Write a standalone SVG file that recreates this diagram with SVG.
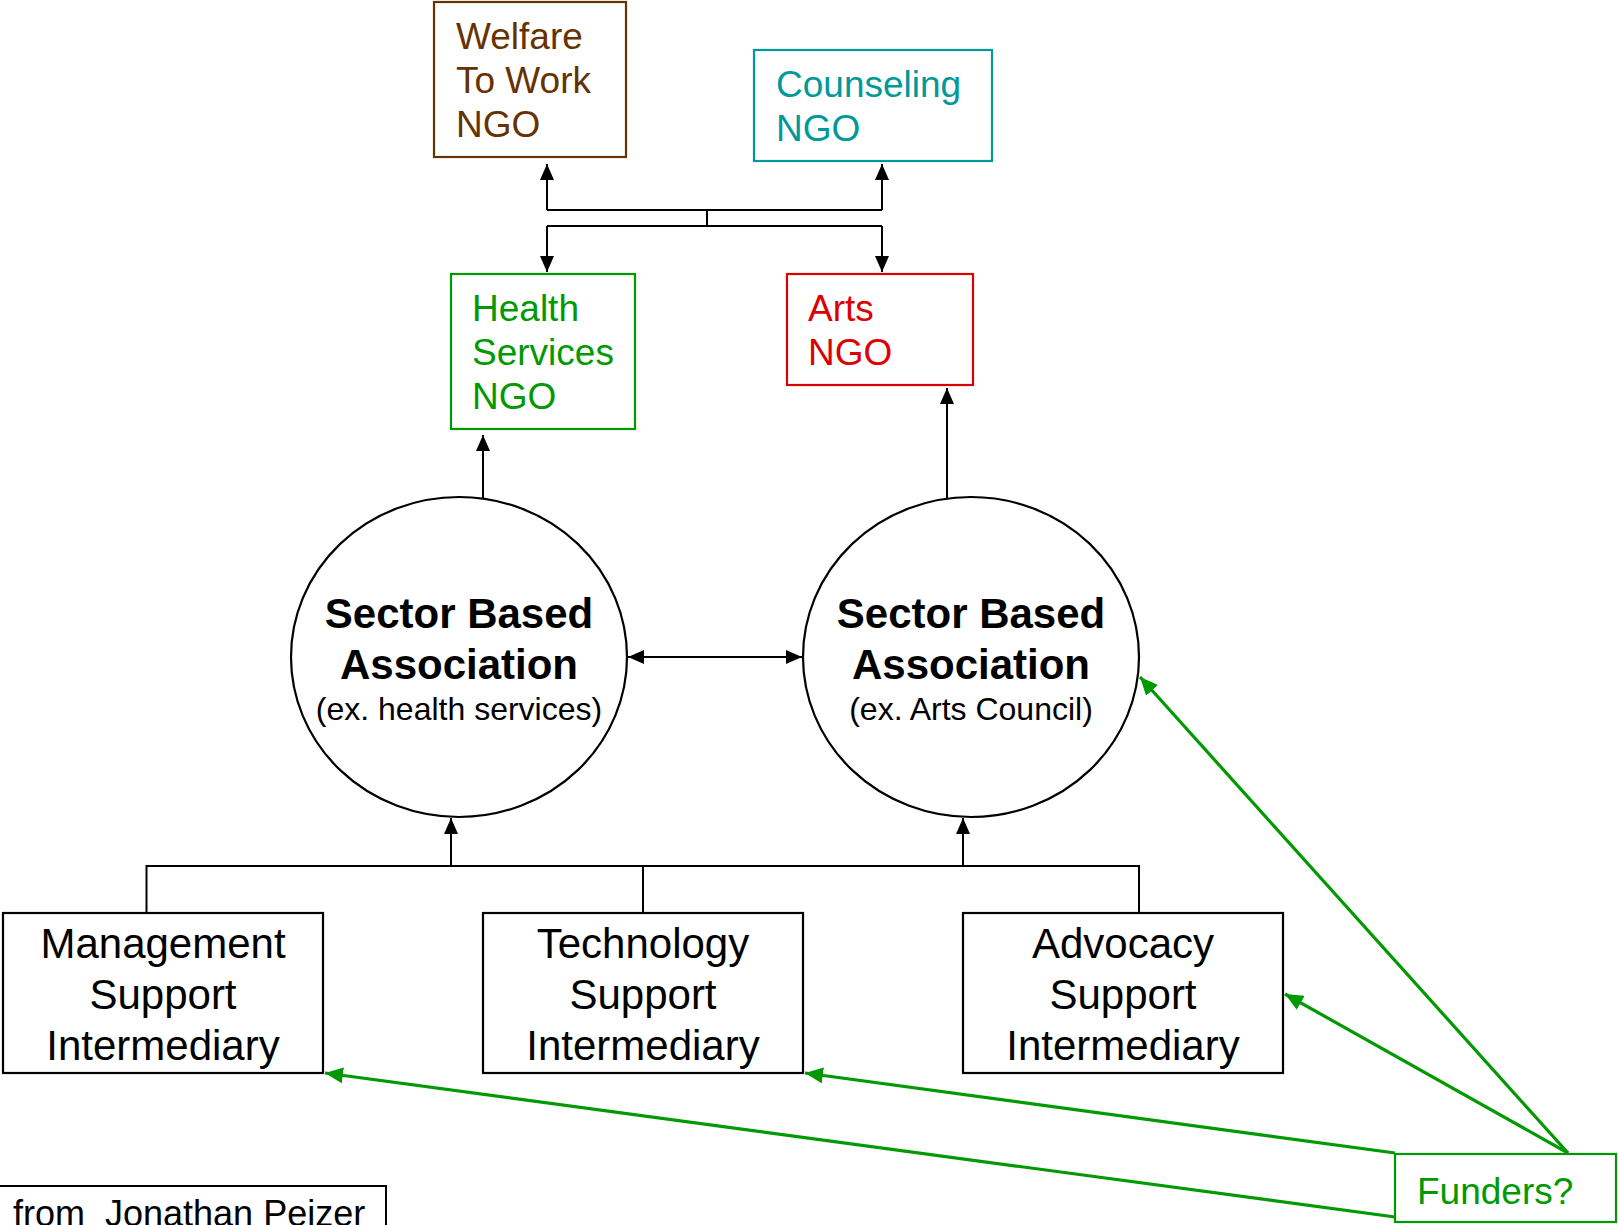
<svg xmlns="http://www.w3.org/2000/svg" width="1618" height="1225" viewBox="0 0 1618 1225">
<style>
text{font-family:"Liberation Sans",Arial,sans-serif}
.ngo{font-size:37px}
.box{fill:#fff;stroke-width:2.2}
.blk{fill:none;stroke:#000;stroke-width:2}
.grn{fill:none;stroke:#009900;stroke-width:3.2}
.big{font-size:42px;font-weight:bold;text-anchor:middle}
.sub{font-size:32px;text-anchor:middle}
.mid{font-size:42px;text-anchor:middle}
</style>
<defs>
<marker id="ab" markerUnits="userSpaceOnUse" markerWidth="16" markerHeight="14" refX="16" refY="7" orient="auto-start-reverse"><path d="M0,0 L16,7 L0,14 z" fill="#000"/></marker>
<marker id="ag" markerUnits="userSpaceOnUse" markerWidth="18" markerHeight="16" refX="18" refY="8" orient="auto"><path d="M0,0 L18,8 L0,16 z" fill="#009900"/></marker>
</defs>
<rect width="1618" height="1225" fill="#fff"/>
<g id="connectors">
<path class="blk" d="M547,210 H882 M707,210 V226 M547,226 H882"/>
<path class="blk" d="M547,210 V164" marker-end="url(#ab)"/>
<path class="blk" d="M882,210 V164" marker-end="url(#ab)"/>
<path class="blk" d="M547,226 V272" marker-end="url(#ab)"/>
<path class="blk" d="M882,226 V272" marker-end="url(#ab)"/>
<path class="blk" d="M483,498 V435" marker-end="url(#ab)"/>
<path class="blk" d="M947,498 V388" marker-end="url(#ab)"/>
<path class="blk" d="M628,657 H802" marker-start="url(#ab)" marker-end="url(#ab)"/>
<path class="blk" d="M146.5,913 V866 H1139 V913 M643,866 V913"/>
<path class="blk" d="M451,866 V818" marker-end="url(#ab)"/>
<path class="blk" d="M963,866 V818" marker-end="url(#ab)"/>
<path class="grn" d="M1568,1153 L1140,677" marker-end="url(#ag)"/>
<path class="grn" d="M1568,1153 L1285,994" marker-end="url(#ag)"/>
<path class="grn" d="M1395,1153 L805,1073" marker-end="url(#ag)"/>
<path class="grn" d="M1395,1217 L325,1073" marker-end="url(#ag)"/>
</g>
<g id="welfare">
<rect class="box" x="434" y="2" width="192" height="155" stroke="#663300"/>
<text class="ngo" fill="#663300" x="456" y="49">Welfare</text>
<text class="ngo" fill="#663300" x="456" y="93">To Work</text>
<text class="ngo" fill="#663300" x="456" y="137">NGO</text>
</g>
<g id="counseling">
<rect class="box" x="754" y="50" width="238" height="111" stroke="#009999"/>
<text class="ngo" fill="#009999" x="776" y="97">Counseling</text>
<text class="ngo" fill="#009999" x="776" y="141">NGO</text>
</g>
<g id="health">
<rect class="box" x="451" y="274" width="184" height="155" stroke="#009900"/>
<text class="ngo" fill="#009900" x="472" y="321">Health</text>
<text class="ngo" fill="#009900" x="472" y="365">Services</text>
<text class="ngo" fill="#009900" x="472" y="409">NGO</text>
</g>
<g id="arts">
<rect class="box" x="787" y="274" width="186" height="111" stroke="#dd0000"/>
<text class="ngo" fill="#dd0000" x="808" y="321">Arts</text>
<text class="ngo" fill="#dd0000" x="808" y="365">NGO</text>
</g>
<g id="sba-health">
<ellipse cx="459" cy="657" rx="168" ry="160" fill="#fff" stroke="#000" stroke-width="2.2"/>
<text class="big" x="459" y="628">Sector Based</text>
<text class="big" x="459" y="679">Association</text>
<text class="sub" x="459" y="720">(ex. health services)</text>
</g>
<g id="sba-arts">
<ellipse cx="971" cy="657" rx="168" ry="160" fill="#fff" stroke="#000" stroke-width="2.2"/>
<text class="big" x="971" y="628">Sector Based</text>
<text class="big" x="971" y="679">Association</text>
<text class="sub" x="971" y="720">(ex. Arts Council)</text>
</g>
<g id="management">
<rect class="box" x="3" y="913" width="320" height="160" stroke="#000"/>
<text class="mid" x="163" y="958">Management</text>
<text class="mid" x="163" y="1009">Support</text>
<text class="mid" x="163" y="1060">Intermediary</text>
</g>
<g id="technology">
<rect class="box" x="483" y="913" width="320" height="160" stroke="#000"/>
<text class="mid" x="643" y="958">Technology</text>
<text class="mid" x="643" y="1009">Support</text>
<text class="mid" x="643" y="1060">Intermediary</text>
</g>
<g id="advocacy">
<rect class="box" x="963" y="913" width="320" height="160" stroke="#000"/>
<text class="mid" x="1123" y="958">Advocacy</text>
<text class="mid" x="1123" y="1009">Support</text>
<text class="mid" x="1123" y="1060">Intermediary</text>
</g>
<g id="funders">
<rect class="box" x="1395" y="1154" width="221" height="68" stroke="#009900" stroke-width="3.4"/>
<text class="ngo" fill="#009900" x="1417" y="1204">Funders?</text>
</g>
<g id="credit">
<rect x="-3" y="1186" width="389" height="60" fill="#fff" stroke="#000" stroke-width="2"/>
<text font-size="36" x="13" y="1226">from&#160; Jonathan Peizer</text>
</g>
</svg>
